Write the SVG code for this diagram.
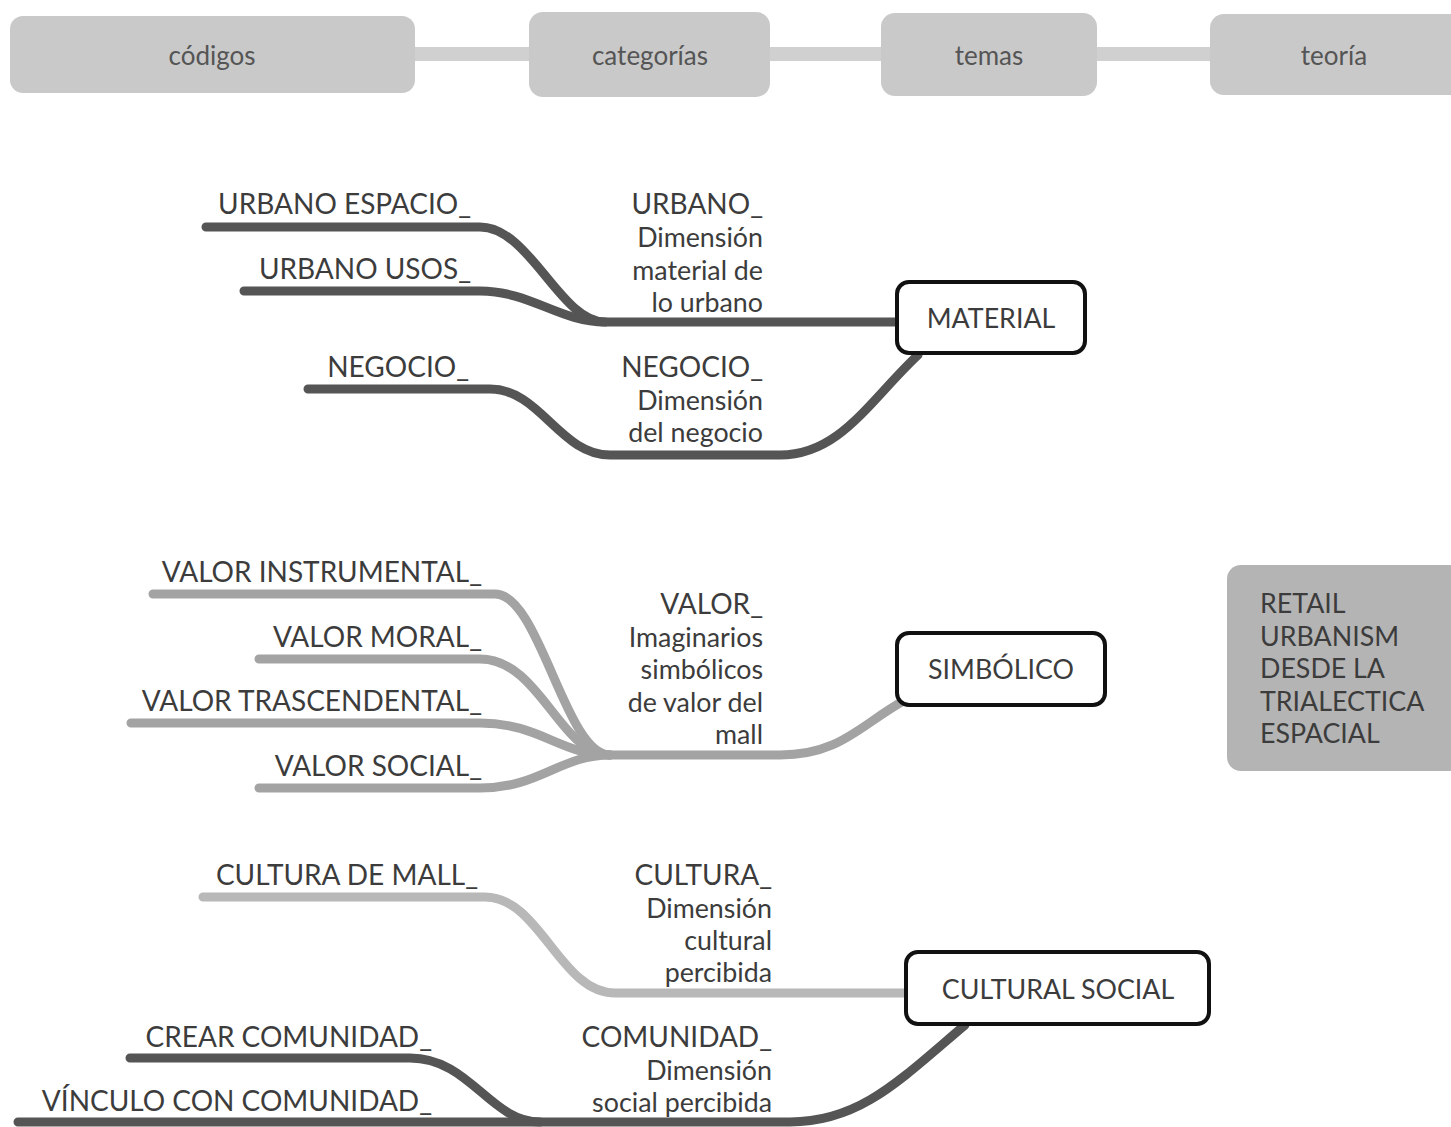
<svg xmlns="http://www.w3.org/2000/svg" width="1451" height="1127" viewBox="0 0 1451 1127">
<style>
text{font-family:Lato,"Open Sans","Liberation Sans",sans-serif;fill:#3c3c3c;font-size:26.8px}
.cap{font-size:28px}
.top{fill:#c9c9c9}
.toptxt{fill:#555;font-size:26px;text-anchor:middle}
.r{text-anchor:end}
.theme{fill:#fff;stroke:#111;stroke-width:4}
.c{fill:none;stroke-linecap:round;stroke-width:9}
.dk{stroke:#555}
.md{stroke:#a3a3a3}
.lt{stroke:#b8b8b8}
.bar{stroke:#d0d0d0;stroke-width:14;fill:none}
</style>
<rect width="1451" height="1127" fill="#fff"/>
<g id="connectors">
<path class="bar" d="M415 54H529M770 54H881M1097 54H1210"/>
<path class="c dk" d="M206 227H480C530 227 560 322 605 322H896"/>
<path class="c dk" d="M244 291H480C530 291 560 322 605 322"/>
<path class="c dk" d="M308 389H490C540 389 560 455 610 455H780C840 455 870 400 918 355"/>
<path class="c md" d="M153 594H495C540 594 565 755 610 755"/>
<path class="c md" d="M259 659H480C540 659 560 755 610 755"/>
<path class="c md" d="M131 723H480C540 723 560 755 610 755"/>
<path class="c md" d="M259 788H480C540 788 560 755 610 755H780C840 755 860 725 905 700"/>
<path class="c lt" d="M203 897H485C540 897 560 993 615 993H905"/>
<path class="c dk" d="M130 1058H410C470 1058 490 1122 540 1122"/>
<path class="c dk" d="M18 1122H790C860 1122 900 1080 965 1025"/>
</g>
<g id="codigos"><rect class="top" x="10" y="16" width="405" height="77" rx="13"/><text class="toptxt" x="212" y="65">códigos</text></g>
<g id="categorias"><rect class="top" x="529" y="12" width="241" height="85" rx="14"/><text class="toptxt" x="650" y="65">categorías</text></g>
<g id="temas"><rect class="top" x="881" y="13" width="216" height="83" rx="14"/><text class="toptxt" x="989" y="65">temas</text></g>
<g id="teoria"><rect class="top" x="1210" y="14" width="260" height="81" rx="14"/><text class="toptxt" x="1334" y="65">teoría</text></g>
<g id="material"><rect class="theme" x="897" y="282" width="188" height="71" rx="12"/><text x="991" y="328" text-anchor="middle">MATERIAL</text></g>
<g id="simbolico"><rect class="theme" x="897" y="633" width="208" height="72" rx="12"/><text x="1001" y="679" text-anchor="middle">SIMBÓLICO</text></g>
<g id="cultural-social"><rect class="theme" x="906" y="952" width="303" height="72" rx="12"/><text x="1058" y="999" text-anchor="middle" font-size="27.4">CULTURAL SOCIAL</text></g>
<g id="retail"><rect x="1227" y="565" width="240" height="206" rx="14" fill="#b4b4b4"/>
<text x="1260" y="613" font-size="29">RETAIL</text><text x="1260" y="646" font-size="29">URBANISM</text><text x="1260" y="678" font-size="29">DESDE LA</text><text x="1260" y="711" font-size="29">TRIALECTICA</text><text x="1260" y="743" font-size="29">ESPACIAL</text></g>
<g id="urbano-espacio"><text class="r cap" x="471" y="214">URBANO ESPACIO_</text></g>
<g id="urbano-usos"><text class="r cap" x="471" y="279">URBANO USOS_</text></g>
<g id="negocio-code"><text class="r cap" x="469" y="377">NEGOCIO_</text></g>
<g id="urbano-cat"><text class="r cap" x="763" y="214">URBANO_</text><text class="r" x="763" y="247">Dimensión</text><text class="r" x="763" y="280">material de</text><text class="r" x="763" y="312">lo urbano</text></g>
<g id="negocio-cat"><text class="r cap" x="763" y="377">NEGOCIO_</text><text class="r" x="763" y="410">Dimensión</text><text class="r" x="763" y="442">del negocio</text></g>
<g id="valor-instrumental"><text class="r cap" x="482" y="582">VALOR INSTRUMENTAL_</text></g>
<g id="valor-moral"><text class="r cap" x="482" y="647">VALOR MORAL_</text></g>
<g id="valor-trascendental"><text class="r cap" x="482" y="711">VALOR TRASCENDENTAL_</text></g>
<g id="valor-social"><text class="r cap" x="482" y="776">VALOR SOCIAL_</text></g>
<g id="valor-cat"><text class="r cap" x="763" y="614">VALOR_</text><text class="r" x="763" y="647">Imaginarios</text><text class="r" x="763" y="679">simbólicos</text><text class="r" x="763" y="712">de valor del</text><text class="r" x="763" y="744">mall</text></g>
<g id="cultura-mall"><text class="r cap" x="478" y="885">CULTURA DE MALL_</text></g>
<g id="cultura-cat"><text class="r cap" x="772" y="885">CULTURA_</text><text class="r" x="772" y="918">Dimensión</text><text class="r" x="772" y="950">cultural</text><text class="r" x="772" y="982">percibida</text></g>
<g id="crear-comunidad"><text class="r cap" x="432" y="1047">CREAR COMUNIDAD_</text></g>
<g id="vinculo-comunidad"><text class="r cap" x="432" y="1111">VÍNCULO CON COMUNIDAD_</text></g>
<g id="comunidad-cat"><text class="r cap" x="772" y="1047">COMUNIDAD_</text><text class="r" x="772" y="1080">Dimensión</text><text class="r" x="772" y="1112">social percibida</text></g>
</svg>
